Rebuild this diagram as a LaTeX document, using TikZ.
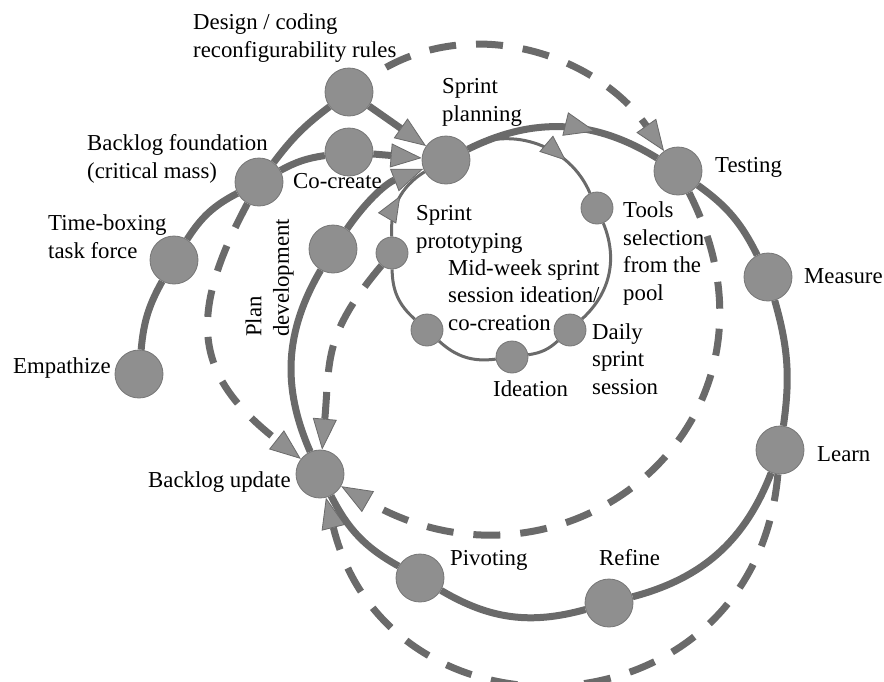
\documentclass[tikz,border=0pt]{standalone}
\usepackage{fontspec}
\setmainfont{Liberation Serif}
\usetikzlibrary{arrows.meta,decorations.markings,backgrounds}
\definecolor{linegray}{RGB}{106,106,106}
\definecolor{nodegray}{RGB}{143,143,143}
\definecolor{rimgray}{RGB}{118,118,118}
\tikzset{
  stage/.style={circle,draw=rimgray,fill=nodegray,line width=0.8pt,inner sep=0pt,minimum size=48pt},
  substage/.style={stage,minimum size=32pt},
  lbl/.style={inner sep=0pt,anchor=base west,align=left,font=\fontsize{22.8}{27.5}\selectfont},
  mainline/.style={linegray,line width=7pt},
  innerline/.style={linegray,line width=3pt},
  dashline/.style={linegray,line width=7pt,dash pattern=on 27pt off 20pt},
  bigtip/.tip={Triangle[length=31pt,width=24pt,line width=0.8pt,fill=nodegray]},
  smalltip/.tip={Triangle[length=26pt,width=21pt,line width=0.8pt,fill=nodegray]},
  midbig/.style={postaction={decorate,decoration={markings,mark=at position #1 with {\arrow{bigtip}}}}},
  midsmall/.style={postaction={decorate,decoration={markings,mark=at position #1 with {\arrow{smalltip}}}}},
}
\begin{document}
\begin{tikzpicture}[x=1pt,y=1pt]
\useasboundingbox (0,0) rectangle (884,-681);
\node[stage] (emp) at (139,-374) {};
\node[stage] (timebox) at (174,-260) {};
\node[stage] (foundation) at (259,-182) {};
\node[stage] (design) at (349,-92) {};
\node[stage] (cocreate) at (349,-152) {};
\node[stage] (planning) at (446,-160) {};
\node[stage] (testing) at (678,-171) {};
\node[stage] (measure) at (768,-277) {};
\node[stage] (learn) at (780,-450) {};
\node[stage] (refine) at (609,-603) {};
\node[stage] (pivoting) at (420,-578) {};
\node[stage] (update) at (320,-474) {};
\node[stage] (plandev) at (333,-249) {};
\node[substage] (tools) at (597,-208) {};
\node[substage] (daily) at (570,-330) {};
\node[substage] (ideation) at (512,-357) {};
\node[substage] (midweek) at (427,-330) {};
\node[substage] (proto) at (392,-253) {};

\node[lbl] (designtxt) at (193,-57) {Design / coding\\reconfigurability rules};
\node[lbl] (foundationtxt) at (87,-178) {Backlog foundation\\(critical mass)};
\node[lbl] (timeboxtxt) at (48,-258) {Time-boxing\\task force};
\node[lbl] (emptxt) at (13,-373) {Empathize};
\node[lbl] (cocreatetxt) at (293,-188) {Co-create};
\node[lbl] (planningtxt) at (442,-121) {Sprint\\planning};
\node[lbl] (testingtxt) at (715,-172) {Testing};
\node[lbl] (toolstxt) at (623,-300) {Tools\\selection\\from the\\pool};
\node[lbl] (measuretxt) at (804,-283) {Measure};
\node[lbl] (prototxt) at (416,-248) {Sprint\\prototyping};
\node[lbl] (midweektxt) at (448,-330) {Mid-week sprint\\session ideation/\\co-creation};
\node[lbl] (dailytxt) at (592,-394) {Daily\\sprint\\session};
\node[lbl] (ideationtxt) at (493,-396) {Ideation};
\node[lbl] (learntxt) at (817,-461) {Learn};
\node[lbl] (refinetxt) at (599,-565) {Refine};
\node[lbl] (pivotingtxt) at (450,-565) {Pivoting};
\node[lbl] (updatetxt) at (148,-487) {Backlog update};
\node[lbl,rotate=90,anchor=south west] (plandevtxt) at (294,-337) {Plan\\development};

\begin{scope}[on background layer]
\draw[mainline] (emp) to[bend left=12] (timebox);
\draw[mainline] (timebox) to[bend left=15] (foundation);
\draw[mainline] (foundation) to[bend left=8] (design);
\draw[mainline,-bigtip] (design) -- (planning);
\draw[mainline] (foundation) to[bend left=10] (cocreate);
\draw[mainline,-bigtip] (cocreate) -- (planning);

\draw[mainline,midbig=0.66] (planning) to[bend left=29] (testing);
\draw[mainline] (testing) to[bend left=14] (measure);
\draw[mainline] (measure) to[bend left=12] (learn);
\draw[mainline] (learn) to[bend left=27] (refine);
\draw[mainline] (refine) to[bend left=23] (pivoting);
\draw[mainline] (pivoting) to[bend left=17] (update);
\draw[mainline] (update) to[bend left=27] (plandev);
\draw[mainline,-bigtip] (plandev) to[bend left=17] (planning);

\draw[innerline,midsmall=0.72] (planning) to[bend left=47] (tools);
\draw[innerline] (tools) to[bend left=35] (daily);
\draw[innerline] (daily) to[bend left=17] (ideation);
\draw[innerline] (ideation) to[bend left=25] (midweek);
\draw[innerline] (midweek) to[bend left=24] (proto);
\draw[innerline,midsmall=0.55] (proto) to[bend left=31] (planning);

\draw[dashline,-bigtip,dash phase=27pt] (design) to[out=35,in=125,looseness=1.0] (testing);
\draw[dashline,-bigtip] (foundation) to[bend right=40,looseness=1.3] (update);
\draw[dashline,-bigtip] (testing) to[out=-63,in=-30,looseness=1.45] (update);
\draw[dashline,-bigtip] (learn) to[out=-95,in=-76,looseness=1.5] (update);
\draw[dashline,-bigtip] (proto) to[out=-130,in=85,looseness=1.2] (update);
\end{scope}
\end{tikzpicture}
\end{document}
